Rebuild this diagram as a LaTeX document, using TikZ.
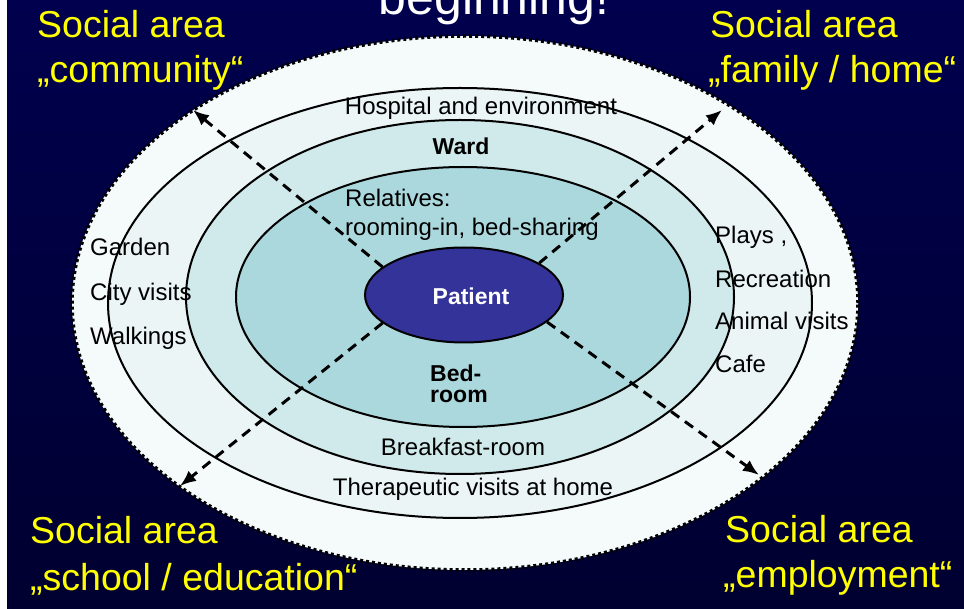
\documentclass[tikz,border=0pt]{standalone}
\usepackage{fontspec}
\setmainfont{Liberation Sans}
\usepackage{tikz}
\usetikzlibrary{shapes.geometric,positioning,arrows.meta}
\definecolor{bgtop}{RGB}{0,0,78}
\definecolor{bgmid}{RGB}{0,0,108}
\definecolor{bgbot}{RGB}{0,0,48}
\definecolor{outerfill}{RGB}{245,250,251}
\definecolor{hospfill}{RGB}{235,245,246}
\definecolor{wardfill}{RGB}{208,233,235}
\definecolor{bedfill}{RGB}{171,216,221}
\definecolor{patientblue}{RGB}{51,51,153}
\definecolor{areayellow}{RGB}{255,255,0}
\tikzset{
	txt/.style={font=\fontsize{24}{28}\selectfont,text=black,inner sep=0pt},
	txtb/.style={txt,font=\fontsize{23}{28}\selectfont\bfseries},
	area/.style={font=\fontsize{37.5}{44}\selectfont,text=areayellow,inner sep=0pt,anchor=base west},
	ring/.style={draw=black,line width=2pt},
	way/.style={dash pattern=on 10pt off 7pt,line width=3pt,-{Latex[length=16pt,width=13pt]}}
}

\begin{document}
\begin{tikzpicture}[x=1pt,y=-1pt]
	\def\largeur{964};
	\def\hauteur{609};
\useasboundingbox (0,0) rectangle (\largeur,\hauteur);
\clip (0,0) rectangle (\largeur,\hauteur); % page frame
\fill[white] (0,0) rectangle (\largeur,\hauteur);
\shade[top color=bgtop,middle color=bgmid,bottom color=bgbot] (7,0) rectangle (\largeur,\hauteur);

%Titre coupe
\node[anchor=base,font=\fontsize{50}{60}\selectfont,text=white,inner sep=0pt] (title) at (494,15) {beginning!};

%Anneaux
\filldraw[fill=outerfill,draw=black,line width=3.5pt,dash pattern=on 3pt off 3pt] (465,303) ellipse [x radius=393pt,y radius=267pt];
\filldraw[ring,fill=hospfill] (460,303) ellipse [x radius=352pt,y radius=215pt];
\filldraw[ring,fill=wardfill] (460,297) ellipse [x radius=274pt,y radius=177pt];
\filldraw[ring,fill=bedfill] (463,297) ellipse [x radius=227pt,y radius=130pt];

%Patient
\node[ellipse,draw,line width=2pt,fill=patientblue,minimum width=198pt,minimum height=95pt,inner sep=0pt] (patient) at (464,295) {};
\node[txtb,text=white,anchor=base] (ptext) at (471,305) {Patient};

%Extremites des fleches
\coordinate (tl) at (193,110);
\coordinate (tr) at (722,110);
\coordinate (bl) at (180,486);
\coordinate (br) at (759,475);

%Fleches
\draw[way] (patient.161) -- (tl);
\draw[way] (patient.23) -- (tr);
\draw[way] (patient.199) -- (bl);
\draw[way] (patient.342) -- (br);

%Textes des anneaux
\node[txt,anchor=base] (hosp) at (481,115) {Hospital and environment};
\node[txtb,anchor=base] (ward) at (461,155) {Ward};
\node[txt,anchor=base west] (rel) at (345,207) {Relatives:};
\node[txt,anchor=base west] (rooming) at (345,236) {rooming-in, bed-sharing};
\node[txtb,anchor=base west] (bed) at (430,382) {Bed-};
\node[txtb,anchor=base west] (room) at (430,403) {room};
\node[txt,anchor=base] (breakfast) at (463,455) {Breakfast-room};
\node[txt,anchor=base] (therapy) at (473,495) {Therapeutic visits at home};

%Gauche
\node[txt,anchor=base west] (garden) at (90,256) {Garden};
\node[txt,anchor=base west] (city) at (90,301) {City visits};
\node[txt,anchor=base west] (walk) at (90,345) {Walkings};

%Droite
\node[txt,anchor=base west] (plays) at (715,244) {Plays ,};
\node[txt,anchor=base west] (recr) at (715,288) {Recreation};
\node[txt,anchor=base west] (animal) at (715,330) {Animal visits};
\node[txt,anchor=base west] (cafe) at (715,373) {Cafe};

%Domaines sociaux
\node[area] (commA) at (37,38) {Social area};
\node[area] (commB) at (37,83) {„community“};
\node[area] (famA) at (710,38) {Social area};
\node[area] (famB) at (708,83) {„family / home“};
\node[area] (schoolA) at (30,543) {Social area};
\node[area] (schoolB) at (30,590) {„school / education“};
\node[area] (empA) at (725,542) {Social area};
\node[area] (empB) at (723,587) {„employment“};

\end{tikzpicture}
\end{document}
